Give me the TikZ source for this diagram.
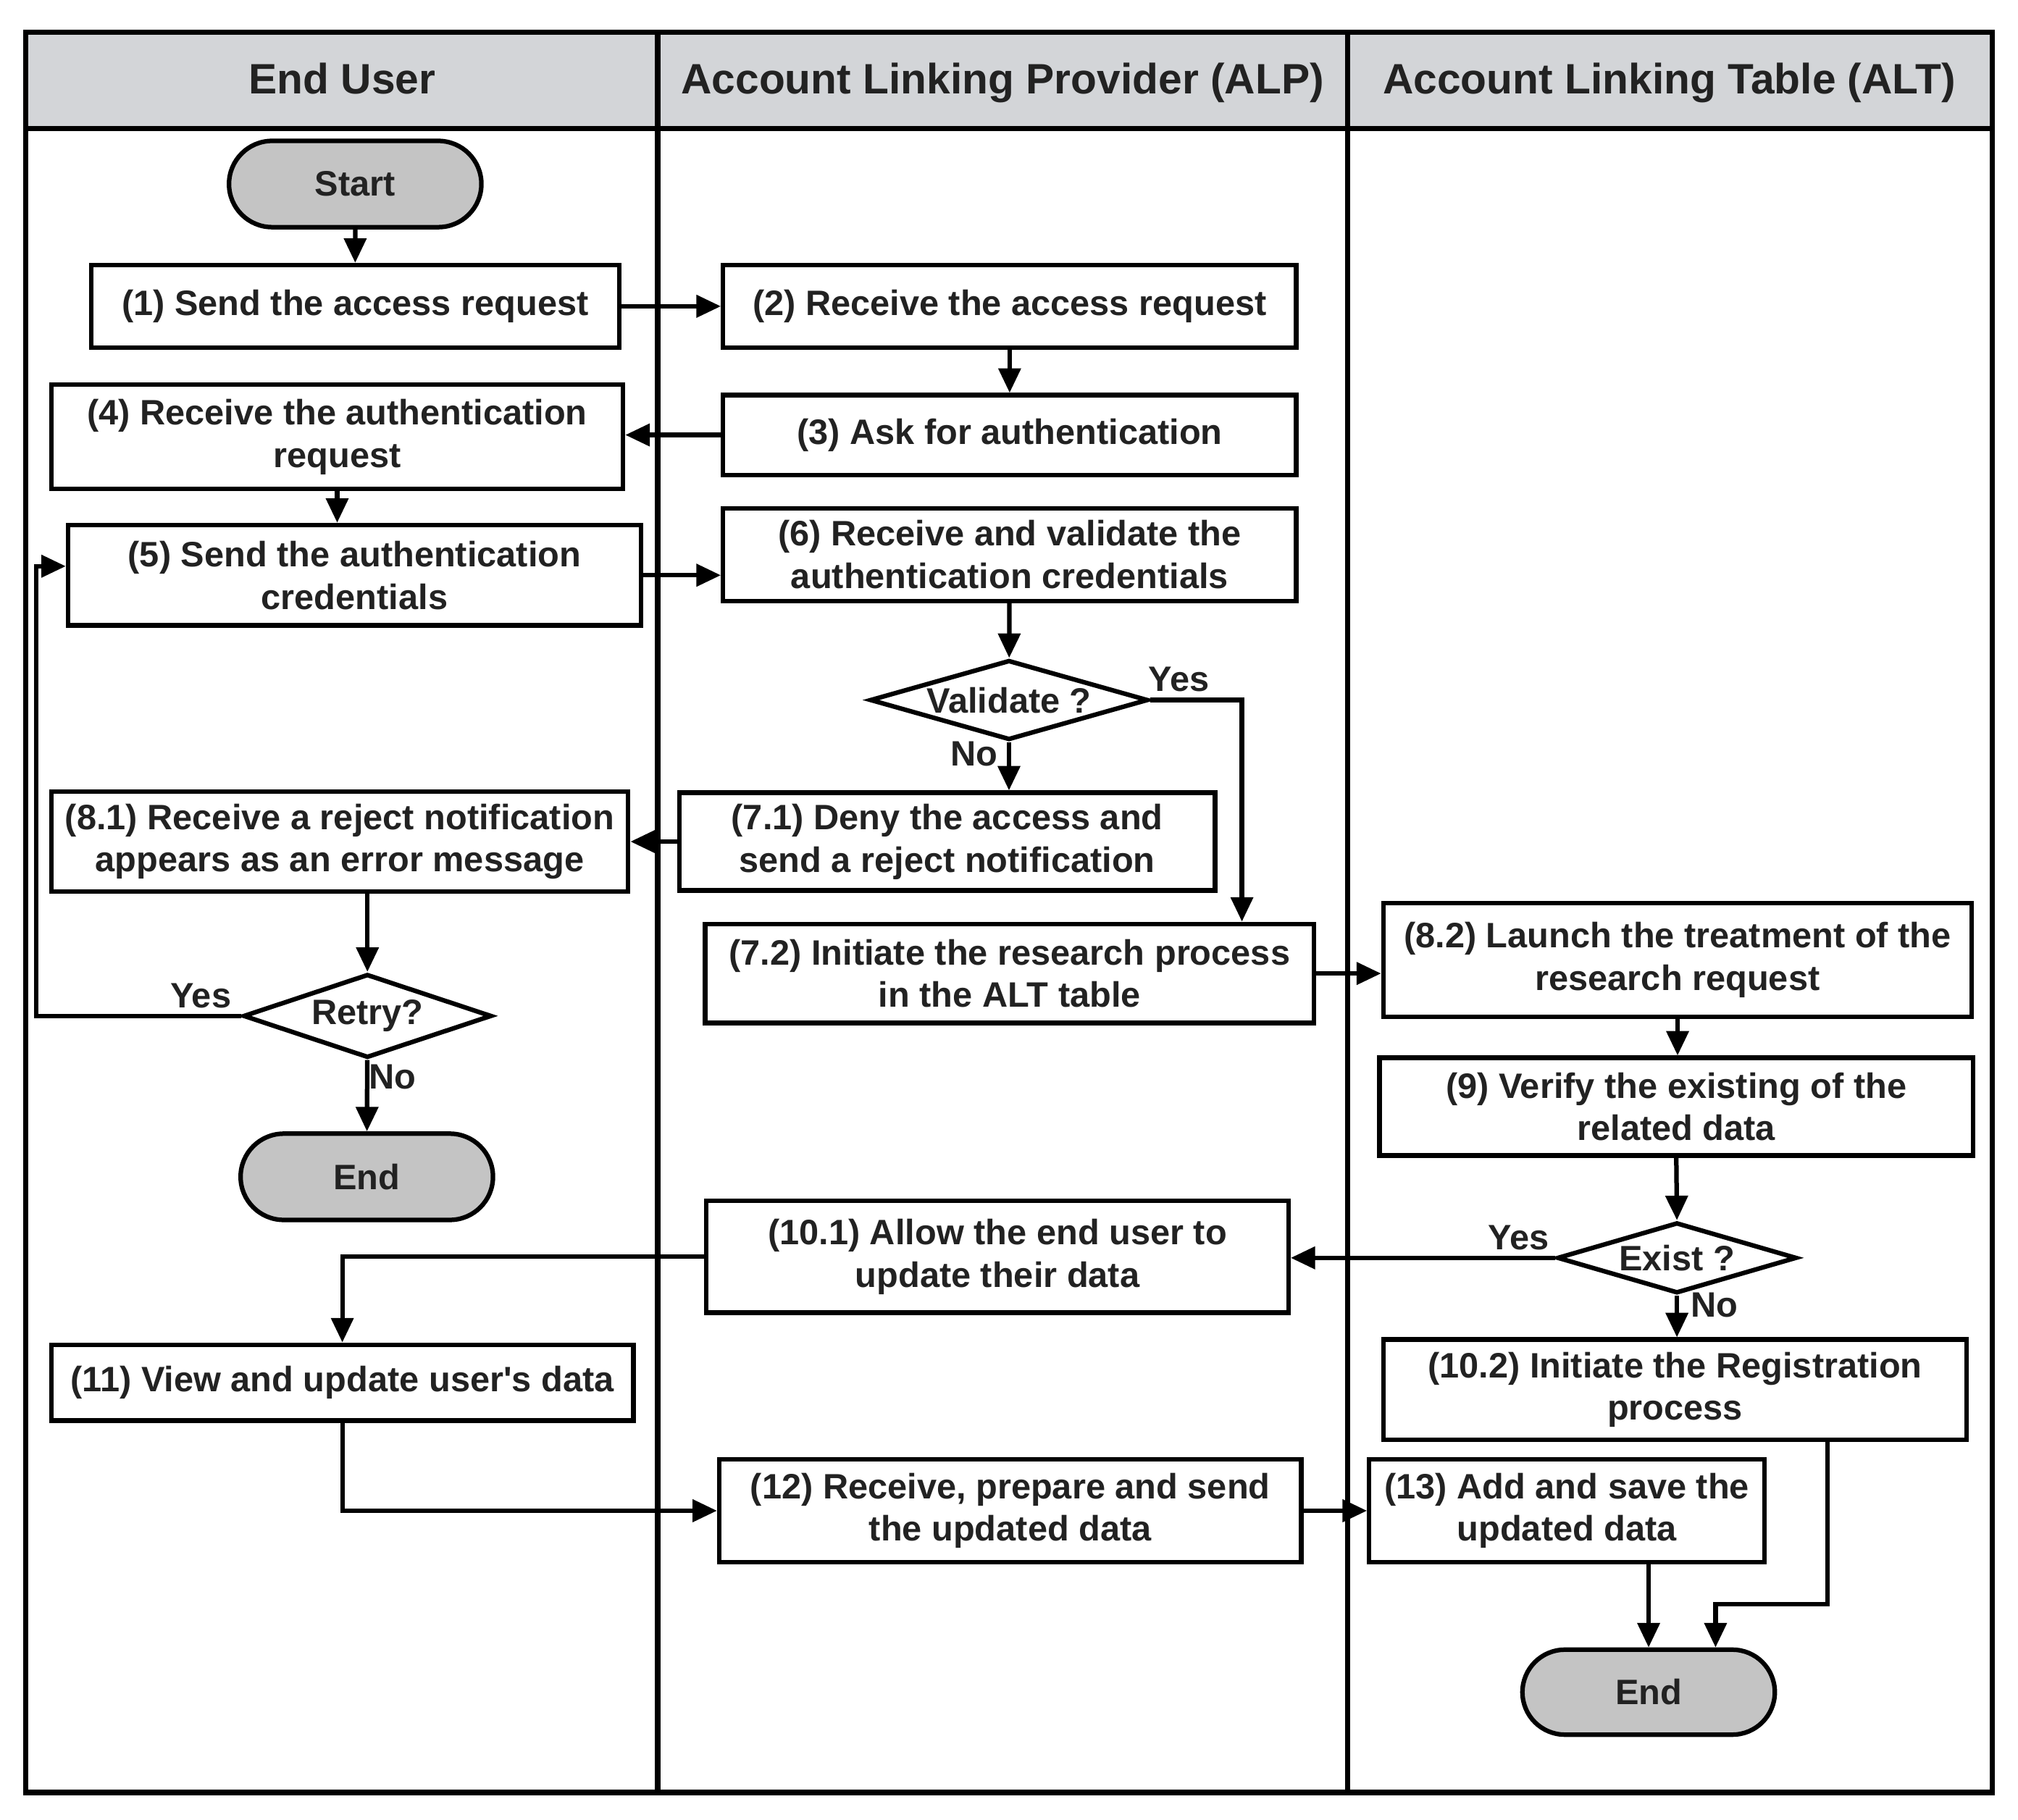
\documentclass[tikz,border=0pt]{standalone}
\usepackage{fontspec}
\setmainfont{Liberation Sans}
\usetikzlibrary{shapes.geometric,shapes.misc,arrows.meta,calc}
\definecolor{hdr}{HTML}{D3D5D8}
\definecolor{termfill}{HTML}{C4C4C4}
\definecolor{txt}{HTML}{222222}
\begin{document}
\begin{tikzpicture}[x=0.01cm,y=-0.01cm,
  every node/.style={font=\bfseries\fontsize{7.8}{9.4}\selectfont, text=txt},
  box/.style={draw, line width=1pt, rectangle, inner sep=0pt, align=center},
  termnode/.style={draw, line width=1pt, rounded rectangle, fill=termfill, inner sep=0pt, minimum width=1.96cm, minimum height=0.67cm},
  dec/.style={draw, line width=1pt, diamond, inner sep=0pt},
  arr/.style={line width=1pt, -{Triangle[length=0.19cm,width=0.17cm]}},
  lbl/.style={inner sep=0pt},
  hdrtext/.style={font=\bfseries\fontsize{9.4}{11}\selectfont, anchor=base, inner sep=0pt},
  frame/.style={line width=1.2pt}
]
\useasboundingbox (0,0) rectangle (1568,1414);
\fill[white] (0,0) rectangle (1568,1414);
% lanes
\fill[hdr] (20,25) rectangle (1548,100);
\draw[frame] (20,100) -- (1548,100);
\draw[frame] (511,25) -- (511,1393);
\draw[frame] (1047,25) -- (1047,1393);
\draw[frame] (20,25) rectangle (1548,1393);
\node[hdrtext] (h1) at (266,73) {End User};
\node[hdrtext] (h2) at (779,73) {Account Linking Provider (ALP)};
\node[hdrtext] (h3) at (1297,73) {Account Linking Table (ALT)};

% nodes
\node[termnode] (start) at (276,143) {Start};
\node[box, minimum width=4.10cm, minimum height=0.64cm] (n1) at (276,238) {(1) Send the access request};
\node[box, minimum width=4.45cm, minimum height=0.64cm] (n2) at (784.5,238) {(2) Receive the access request};
\node[box, minimum width=4.45cm, minimum height=0.62cm] (n3) at (784.5,338) {(3) Ask for authentication};
\node[box, minimum width=4.44cm, minimum height=0.81cm] (n4) at (262,339.5) {(4) Receive the authentication\\request};
\node[box, minimum width=4.45cm, minimum height=0.78cm] (n5) at (275.5,447) {(5) Send the authentication\\credentials};
\node[box, minimum width=4.45cm, minimum height=0.72cm] (n6) at (784.5,431) {(6) Receive and validate the\\authentication credentials};
\node[dec, minimum width=2.16cm, minimum height=0.62cm, label={center:Validate ?}] (val) at (784,544) {};
\node[box, minimum width=4.16cm, minimum height=0.76cm] (n71) at (736,654) {(7.1) Deny the access and\\send a reject notification};
\node[box, minimum width=4.48cm, minimum height=0.78cm] (n81) at (264,654) {(8.1) Receive a reject notification\\appears as an error message};
\node[dec, minimum width=1.93cm, minimum height=0.65cm, label={center:Retry?}] (retry) at (285.5,789.5) {};
\node[termnode] (endL) at (285,914.5) {End};
\node[box, minimum width=4.73cm, minimum height=0.77cm] (n72) at (784.5,756.5) {(7.2) Initiate the research process\\in the ALT table};
\node[box, minimum width=4.57cm, minimum height=0.88cm] (n82) at (1303.5,746) {(8.2) Launch the treatment of the\\research request};
\node[box, minimum width=4.61cm, minimum height=0.76cm] (n9) at (1302.5,860) {(9) Verify the existing of the\\related data};
\node[dec, minimum width=1.86cm, minimum height=0.55cm, label={center:Exist ?}] (exist) at (1303,977.5) {};
\node[box, minimum width=4.52cm, minimum height=0.87cm] (n101) at (775,976.5) {(10.1) Allow the end user to\\update their data};
\node[box, minimum width=4.52cm, minimum height=0.59cm] (n11) at (266,1074.5) {(11) View and update user\textquotesingle s data};
\node[box, minimum width=4.53cm, minimum height=0.78cm] (n102) at (1301.5,1080) {(10.2) Initiate the Registration\\process};
\node[box, minimum width=4.52cm, minimum height=0.80cm] (n12) at (785,1174) {(12) Receive, prepare and send\\the updated data};
\node[box, minimum width=3.07cm, minimum height=0.80cm] (n13) at (1217.5,1174) {(13) Add and save the\\updated data};
\node[termnode, minimum height=0.66cm] (endR) at (1281,1315) {End};

% connectors
\draw[arr] (start) -- (n1);
\draw[arr] (n1) -- (n2);
\draw[arr] (n2) -- (n3);
\draw[arr] (n3.west) -- (n3.west -| n4.east);
\draw[arr] (n4.south) -- (n4.south |- n5.north);
\draw[arr] (n5.east) -- (n5.east -| n6.west);
\draw[arr] (n6) -- (val);
\draw[arr] (val.east) -| ($(n72.north)+(180.5,0)$);
\draw[arr] (val.south) -- (val.south |- n71.north);
\draw[arr] (n71.west) -- (n71.west -| n81.east);
\draw[arr] (retry.north |- n81.south) -- (retry.north);
\draw[arr] (retry.west) -- ($(retry.west)+(-159,0)$) |- ($(n5.west)+(0,-7)$);
\draw[arr] (retry) -- (endL);
\draw[arr] (n72.east) -- (n72.east -| n82.west);
\draw[arr] (n82.south) -- (n82.south |- n9.north);
\draw[arr] (n9.south) -- (exist.north);
\draw[arr] (exist.west) -- (exist.west -| n101.east);
\draw[arr] (exist.south) -- (exist.south |- n102.north);
\draw[arr] (n101.west) -| (n11.north);
\draw[arr] (n11.south) |- (n12.west);
\draw[arr] (n12.east) -- (n12.east -| n13.west);
\draw[arr] (endR.north |- n13.south) -- (endR.north);
\draw[arr] ($(n102.south)+(118.5,0)$) -- ($(n102.south)+(118.5,126)$) -| ($(endR.north)+(52,0)$);

% labels
\node[lbl] (lvy) at (916,528) {Yes};
\node[lbl] (lvn) at (757,586) {No};
\node[lbl] (lry) at (156,774) {Yes};
\node[lbl] (lrn) at (305,837) {No};
\node[lbl] (ley) at (1180,962) {Yes};
\node[lbl] (len) at (1332,1014) {No};
\end{tikzpicture}
\end{document}
